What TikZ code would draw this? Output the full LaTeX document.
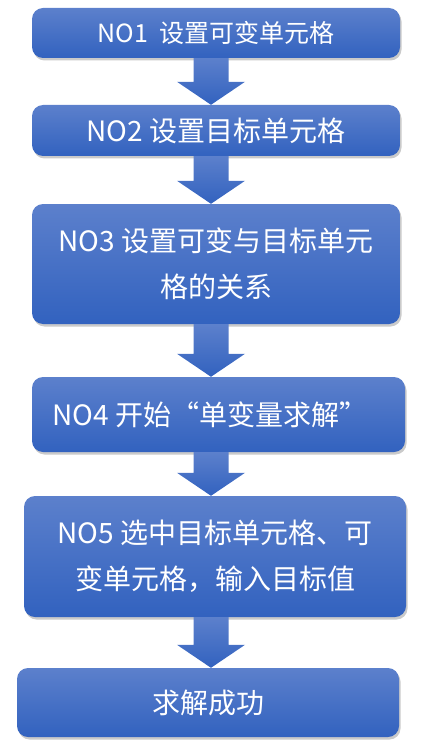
\documentclass[tikz,border=0pt]{standalone}
\usepackage{fontspec}
\setmainfont{Noto Sans CJK SC}
\usetikzlibrary{calc,shadows}
\definecolor{boxtop}{HTML}{5C80CC}
\definecolor{boxbot}{HTML}{3262BF}
\tikzset{
  stepbox/.style={rounded corners=11pt, top color=boxtop, bottom color=boxbot,
    draw=none, text=white, align=center, inner sep=0pt,
    drop shadow={opacity=0.35, shadow xshift=1.5pt, shadow yshift=-2.5pt, fill=black!60},
    font=\fontsize{28}{46}\selectfont},
  bigarrow/.style={top color=boxtop, bottom color=boxbot, draw=none,
    to path={let \p1=(\tikztostart), \p2=(\tikztotarget) in
      (\x1-17.5pt,\y1) -- (\x1+17.5pt,\y1) -- (\x1+17.5pt,\y2+23pt) -- (\x1+34pt,\y2+23pt)
      -- (\x1,\y2) -- (\x1-34pt,\y2+23pt) -- (\x1-17.5pt,\y2+23pt) -- cycle}}
}
\begin{document}
\begin{tikzpicture}[x=1pt,y=-1pt]
\useasboundingbox (0,0) rectangle (430,746);
\coordinate (ax) at (211,0);
\node[stepbox, minimum width=368pt, minimum height=50pt, font=\fontsize{25}{30}\selectfont] (b1) at (216,33) {NO1\ \ 设置可变单元格};
\node[stepbox, minimum width=368pt, minimum height=51pt] (b2) at (216,130.5) {NO2 设置目标单元格};
\node[stepbox, minimum width=368pt, minimum height=120pt] (b3) at (216,264) {NO3 设置可变与目标单元\\格的关系};
\node[stepbox, minimum width=373pt, minimum height=75pt] (b4) at (218.5,414.5) {\hspace*{-17pt}NO4 开始“单变量求解”};
\node[stepbox, minimum width=382pt, minimum height=121pt] (b5) at (215,556.5) {NO5 选中目标单元格、可\\变单元格，输入目标值};
\node[stepbox, minimum width=382pt, minimum height=69pt] (b6) at (208,702.5) {求解成功};
\path[bigarrow] (b1.south -| ax) to (b2.north -| ax);
\path[bigarrow] (b2.south -| ax) to (b3.north -| ax);
\path[bigarrow] (b3.south -| ax) to (b4.north -| ax);
\path[bigarrow] (b4.south -| ax) to (b5.north -| ax);
\path[bigarrow] (b5.south -| ax) to (b6.north -| ax);
\end{tikzpicture}
\end{document}
